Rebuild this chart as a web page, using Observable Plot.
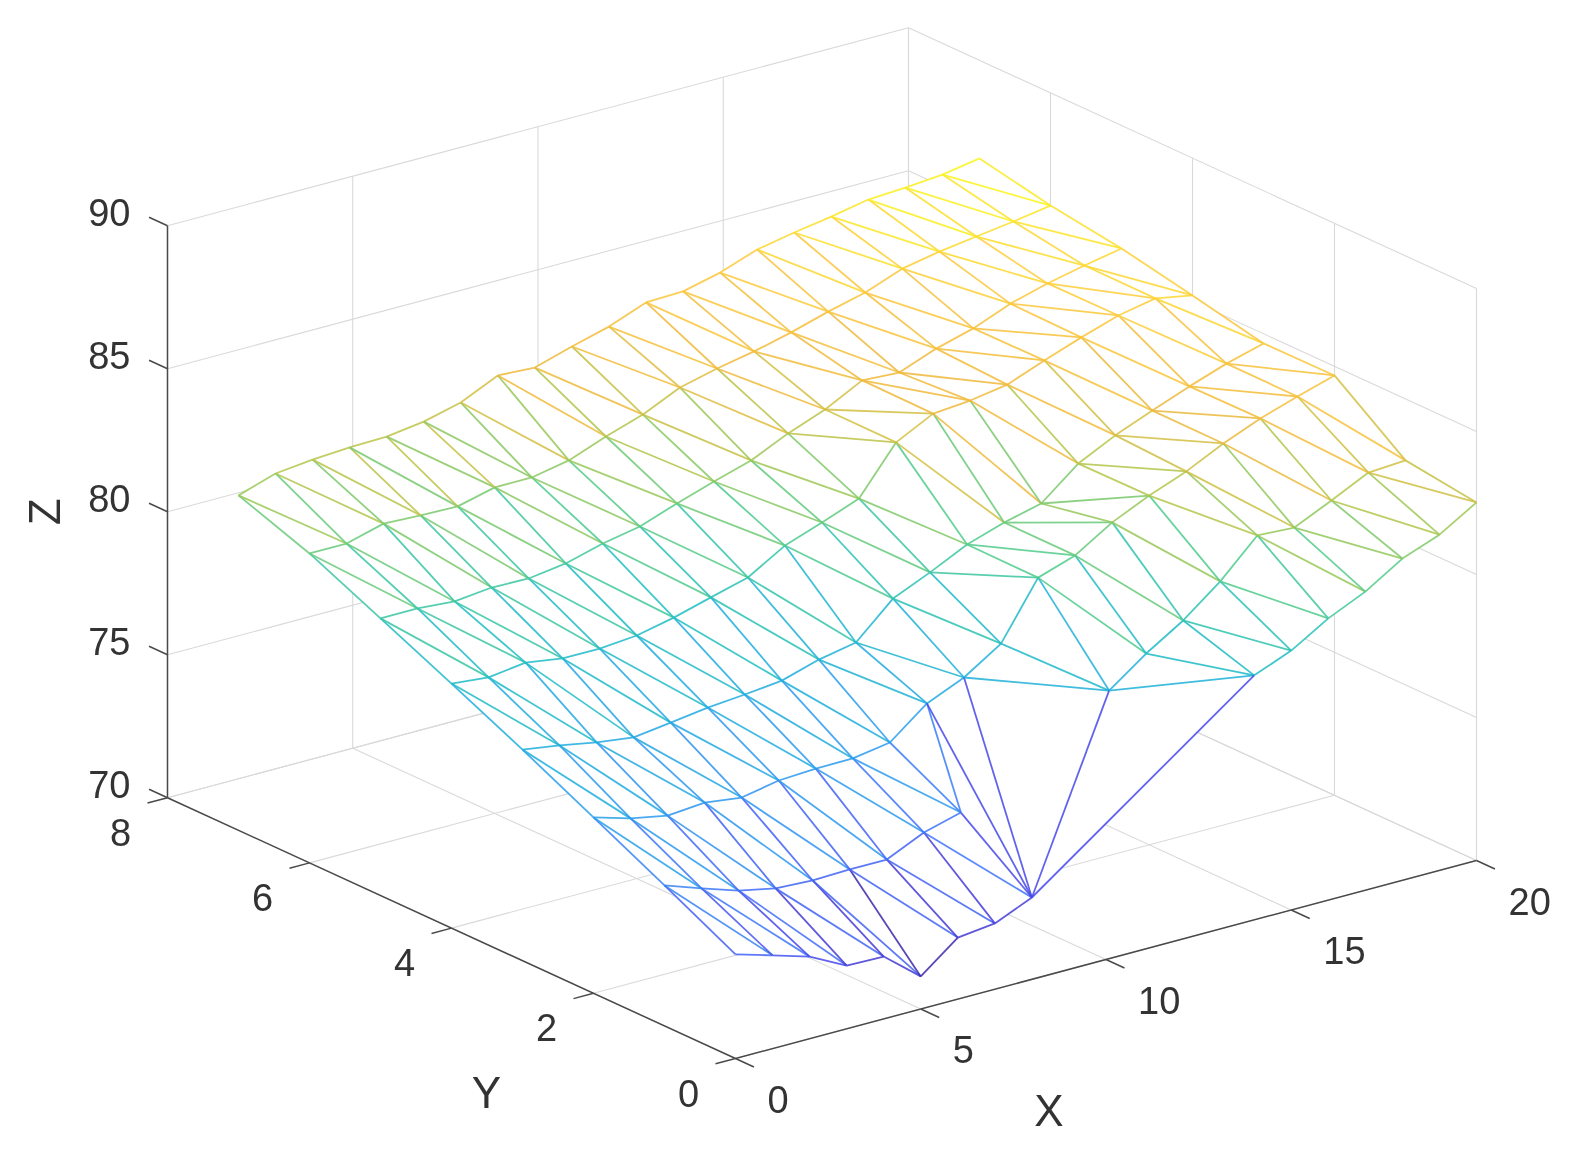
<!DOCTYPE html>
<html>
<head>
<meta charset="utf-8">
<script src="https://cdn.jsdelivr.net/npm/d3@7"></script>
<script src="https://cdn.jsdelivr.net/npm/@observablehq/plot@0.6"></script>
<style>
html,body{margin:0;padding:0;background:#fff;}
#chart svg{display:block;filter:blur(0.7px);}
</style>
</head>
<body>
<div id="chart"></div>
<script>
// Surface heights Z, one list per Y value; index within a list is X (0..20). null = no sample.
const zAtY0 = [73.64,73.26,72.87,72.21,72.18,71.14,72.15,72.30,72.86,null,null,null,null,null,78.55,79.07,79.85,80.44,81.25,81.74,82.52];
const zAtY1 = [74.91,74.46,74.04,73.77,73.70,73.74,73.74,74.34,74.69,null,null,null,77.57,78.52,79.33,80.35,81.61,81.54,82.14,82.77,82.85];
const zAtY2 = [76.15,75.77,75.52,75.63,75.46,75.71,75.78,75.79,76.00,77.02,77.58,78.42,80.38,80.81,81.62,82.21,82.71,83.34,83.87,84.29,84.68];
const zAtY3 = [77.38,77.18,76.94,76.77,76.94,77.12,77.23,77.37,77.76,78.01,79.20,79.77,80.40,80.82,81.14,82.19,82.83,83.35,83.85,84.30,84.66];
const zAtY4 = [78.55,78.42,78.59,78.39,78.39,78.50,78.78,79.14,79.49,80.26,80.72,81.21,82.83,83.49,83.60,83.81,84.31,84.77,85.19,85.44,85.20];
const zAtY5 = [79.69,79.69,79.59,79.73,79.70,79.88,80.23,80.48,80.94,81.36,81.75,82.35,82.84,83.51,83.44,83.93,84.29,84.81,85.17,85.45,85.70];
const zAtY6 = [80.82,80.82,81.17,81.11,81.08,81.40,81.40,81.65,82.14,82.56,83.16,83.48,83.73,84.05,84.43,84.75,85.24,85.49,85.67,85.85,86.06];
const zAtY7 = [81.71,82.13,82.27,82.35,82.38,82.56,82.88,83.48,83.41,83.80,84.15,84.65,84.69,85.00,85.46,85.71,85.92,86.17,86.24,86.35,86.57];
const zRows = [zAtY0,zAtY1,zAtY2,zAtY3,zAtY4,zAtY5,zAtY6,zAtY7];

// Triangles bridging the part of the grid with no samples, as [x,y] vertices.
const holeTriangles = [
  [[8,2],[9,2],[8,1]],
  [[8,1],[9,2],[8,0]],
  [[9,2],[10,2],[8,0]],
  [[10,2],[12,1],[8,0]],
  [[10,2],[11,2],[12,1]],
  [[12,1],[14,0],[8,0]],
  [[12,1],[13,1],[14,0]]
];
// Mesh cells [x,y] whose side edge takes the upper vertex colour and whose diagonal the lower.
const swappedCells = ["3,7","4,7","5,7"];

const xTicks = [0,5,10,15,20];
const yTicks = [0,2,4,6,8];
const zTicks = [70,75,80,85,90];
const parula = ["#3e26a8","#4743e8","#3f70fb","#2a9aee","#1fadde","#1fbfc0","#50cb8a","#a9c74c","#f0b93a","#fec93a","#f9fb15"];
const inkGrid = "#d9d9d9", inkAxis = "#4a4a4a", inkText = "#333333";

// Fixed orthographic view of the axes box.
function project(x,y,z){
  return [735 + 37.05*x - 71*y, 1058 - 9.9*x - 32.6*y - 28.6*(z-70)];
}
function seg(a,b){ const p=project(...a), q=project(...b); return {x1:p[0],y1:p[1],x2:q[0],y2:q[1]}; }
const Z = (i,j) => zRows[j][i];
const has = (i,j) => zRows[j] && zRows[j][i] != null;
const V = (i,j) => [i,j,Z(i,j)];

// Background grid
const grid = [];
for (const k of xTicks){ grid.push(seg([k,0,70],[k,8,70]), seg([k,8,70],[k,8,90])); }
for (const k of yTicks){ grid.push(seg([0,k,70],[20,k,70]), seg([20,k,70],[20,k,90])); }
for (const k of zTicks){ grid.push(seg([0,8,k],[20,8,k]), seg([20,0,k],[20,8,k])); }

// Axes lines and ticks
const axes = [seg([0,0,70],[20,0,70]), seg([0,0,70],[0,8,70]), seg([0,8,70],[0,8,90])];
for (const k of xTicks) axes.push(seg([k,0,70],[k,-0.26,70]));
for (const k of yTicks) axes.push(seg([0,k,70],[-0.54,k,70]));
for (const k of zTicks) axes.push(seg([0,8,k],[0,8.26,k]));

// Triangles and edges of the mesh
const tris = [], edges = [];
function edge(a,b,c){ edges.push({...seg(V(...a),V(...b)), value:Z(...c)}); }
const nx = zAtY0.length, ny = zRows.length;
for (let j=0;j<ny;j++) for (let i=0;i<nx;i++){
  if (!has(i,j)) continue;
  const sw = swappedCells.includes(i+","+j);
  if (has(i+1,j)) edge([i,j],[i+1,j],[i,j]);
  if (j>0 && has(i,j-1)) edge([i,j],[i,j-1],sw?[i,j]:[i,j-1]);
  if (j>0 && has(i+1,j-1)) edge([i,j],[i+1,j-1],sw?[i+1,j-1]:[i,j]);
  if (j>0 && has(i+1,j) && has(i+1,j-1)) tris.push([[i,j],[i+1,j],[i+1,j-1]]);
  if (j>0 && has(i+1,j-1) && has(i,j-1)) tris.push([[i,j],[i+1,j-1],[i,j-1]]);
}
const seen = new Set(edges.map(e=>[e.x1,e.y1,e.x2,e.y2].join()));
for (const t of holeTriangles){
  tris.push(t);
  for (let k=0;k<3;k++){
    const a=t[k], b=t[(k+1)%3];
    const low = Z(...a) < Z(...b) ? a : b;
    const s=seg(V(...a),V(...b));
    const key=[s.x1,s.y1,s.x2,s.y2].join(), rev=[s.x2,s.y2,s.x1,s.y1].join();
    if (seen.has(key)||seen.has(rev)) continue;
    seen.add(key);
    edge(a,b,low);
  }
}
const triPts = tris.flatMap((t,id)=>t.map(v=>{const p=project(...V(...v));return {u:p[0],v:p[1],id};}));

const at = (pts)=>pts.map(p=>{const q=project(...p.pos);return {u:q[0],v:q[1],label:p.label};});
const zLabels = at(zTicks.map(k=>({pos:[0,8,k],label:String(k)})));
const yLabels = at(yTicks.map(k=>({pos:[0,k,70],label:String(k)})));
const xLabels = at(xTicks.map(k=>({pos:[k,0,70],label:String(k)})));
const xTitle = at([{pos:[10,0,70],label:"X"}]);
const yTitle = at([{pos:[0,4,70],label:"Y"}]);
const zTitle = at([{pos:[0,8,80],label:"Z"}]);

const linkOpts = {x1:"x1",y1:"y1",x2:"x2",y2:"y2"};
const W=1580,H=1162, font="'Liberation Sans',Arial,sans-serif";
const txt = {x:"u",y:"v",text:"label",fill:inkText,fontFamily:font};

const chart = Plot.plot({
  width:W,height:H,margin:0,
  x:{axis:null,domain:[0,W],range:[0,W]},
  y:{axis:null,domain:[0,H],range:[0,H]},
  color:{type:"linear",domain:[d3.min(zRows.flat().filter(d=>d!=null)),d3.max(zRows.flat())],interpolate:d3.piecewise(d3.interpolateRgb,parula)},
  style:{background:"#fff",fontFamily:font},
  marks:[
    Plot.link(grid,{...linkOpts,stroke:inkGrid,strokeWidth:1.1}),
    Plot.link(axes,{...linkOpts,stroke:inkAxis,strokeWidth:1.5}),
    Plot.line(triPts,{x:"u",y:"v",z:"id",fill:"white",stroke:"none"}),
    Plot.link(edges,{...linkOpts,stroke:"value",strokeWidth:1.8,strokeOpacity:0.85}),
    Plot.text(zLabels,{...txt,textAnchor:"end",fontSize:38,dx:-37,dy:-12}),
    Plot.text(yLabels,{...txt,textAnchor:"middle",fontSize:38,dx:-47,dy:36}),
    Plot.text(xLabels,{...txt,textAnchor:"start",fontSize:38,dx:32,dy:42}),
    Plot.text(xTitle,{...txt,textAnchor:"middle",fontSize:44,dx:-57,dy:152}),
    Plot.text(yTitle,{...txt,textAnchor:"middle",fontSize:44,dx:35,dy:166}),
    Plot.text(zTitle,{...txt,textAnchor:"middle",fontSize:44,dx:-122,rotate:-90})
  ]
});
document.getElementById("chart").appendChild(chart);
</script>
</body>
</html>
